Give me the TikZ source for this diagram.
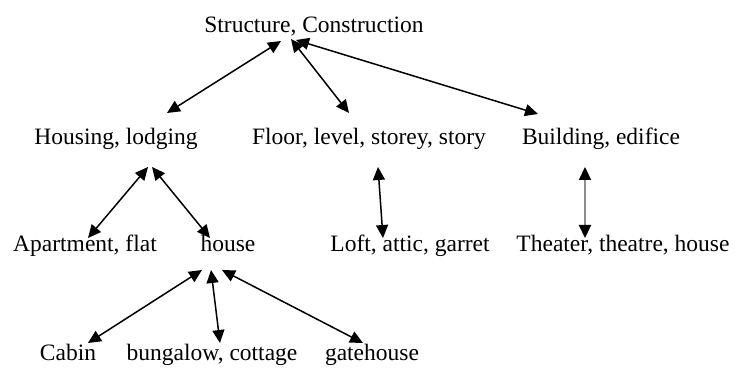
\documentclass[tikz,border=0pt]{standalone}
\usepackage{fontspec}
\setmainfont{Liberation Serif}
\usetikzlibrary{arrows.meta}
\begin{document}
\begin{tikzpicture}[x=1pt,y=-1pt,
  lbl/.style={anchor=base,inner sep=0pt,font=\fontsize{23.5}{28}\selectfont},
  link/.style={{Triangle[length=13pt,width=12pt,color=black]}-{Triangle[length=13pt,width=12pt,color=black]},line width=1.5pt,black},
  glink/.style={link,draw=black!45,line width=2.2pt}]
\useasboundingbox (0,0) rectangle (736,371);
\node[lbl] (root) at (314,33) {Structure, Construction};
\node[lbl] (housing) at (116,145) {Housing, lodging};
\node[lbl] (floor) at (369,145) {Floor, level, storey, story};
\node[lbl] (building) at (601,145) {Building, edifice};
\node[lbl] (apt) at (85,252) {Apartment, flat};
\node[lbl] (house) at (228,252) {house};
\node[lbl] (loft) at (410,252) {Loft, attic, garret};
\node[lbl] (theater) at (623,252) {Theater, theatre, house};
\node[lbl] (cabin) at (68,360) {Cabin};
\node[lbl] (bungalow) at (212,360) {bungalow, cottage};
\node[lbl] (gate) at (372,360) {gatehouse};
% endpoints
\coordinate (r1) at (281,41);
\coordinate (r2) at (291,39);
\coordinate (r3) at (296,40);
\coordinate (h1) at (167,113);
\coordinate (f1) at (349,113);
\coordinate (b1) at (538,114);
\coordinate (hu1) at (148,167);
\coordinate (hu2) at (152,167);
\coordinate (a1) at (88,238);
\coordinate (ho1) at (210,238);
\coordinate (fl1) at (378,167);
\coordinate (l1) at (383,238);
\coordinate (bu1) at (585,167);
\coordinate (t1) at (585,238);
\coordinate (hs1) at (202,270);
\coordinate (hs2) at (211,270);
\coordinate (hs3) at (222,270);
\coordinate (c1) at (88,343);
\coordinate (bg1) at (220,343);
\coordinate (g1) at (363,343);
\draw[link] (r1) -- (h1);
\draw[link] (r2) -- (f1);
\draw[link] (r3) -- (b1);
\draw[link] (hu1) -- (a1);
\draw[link] (hu2) -- (ho1);
\draw[link] (fl1) -- (l1);
\draw[glink] (bu1) -- (t1);
\draw[link] (hs1) -- (c1);
\draw[link] (hs2) -- (bg1);
\draw[link] (hs3) -- (g1);
\end{tikzpicture}
\end{document}
